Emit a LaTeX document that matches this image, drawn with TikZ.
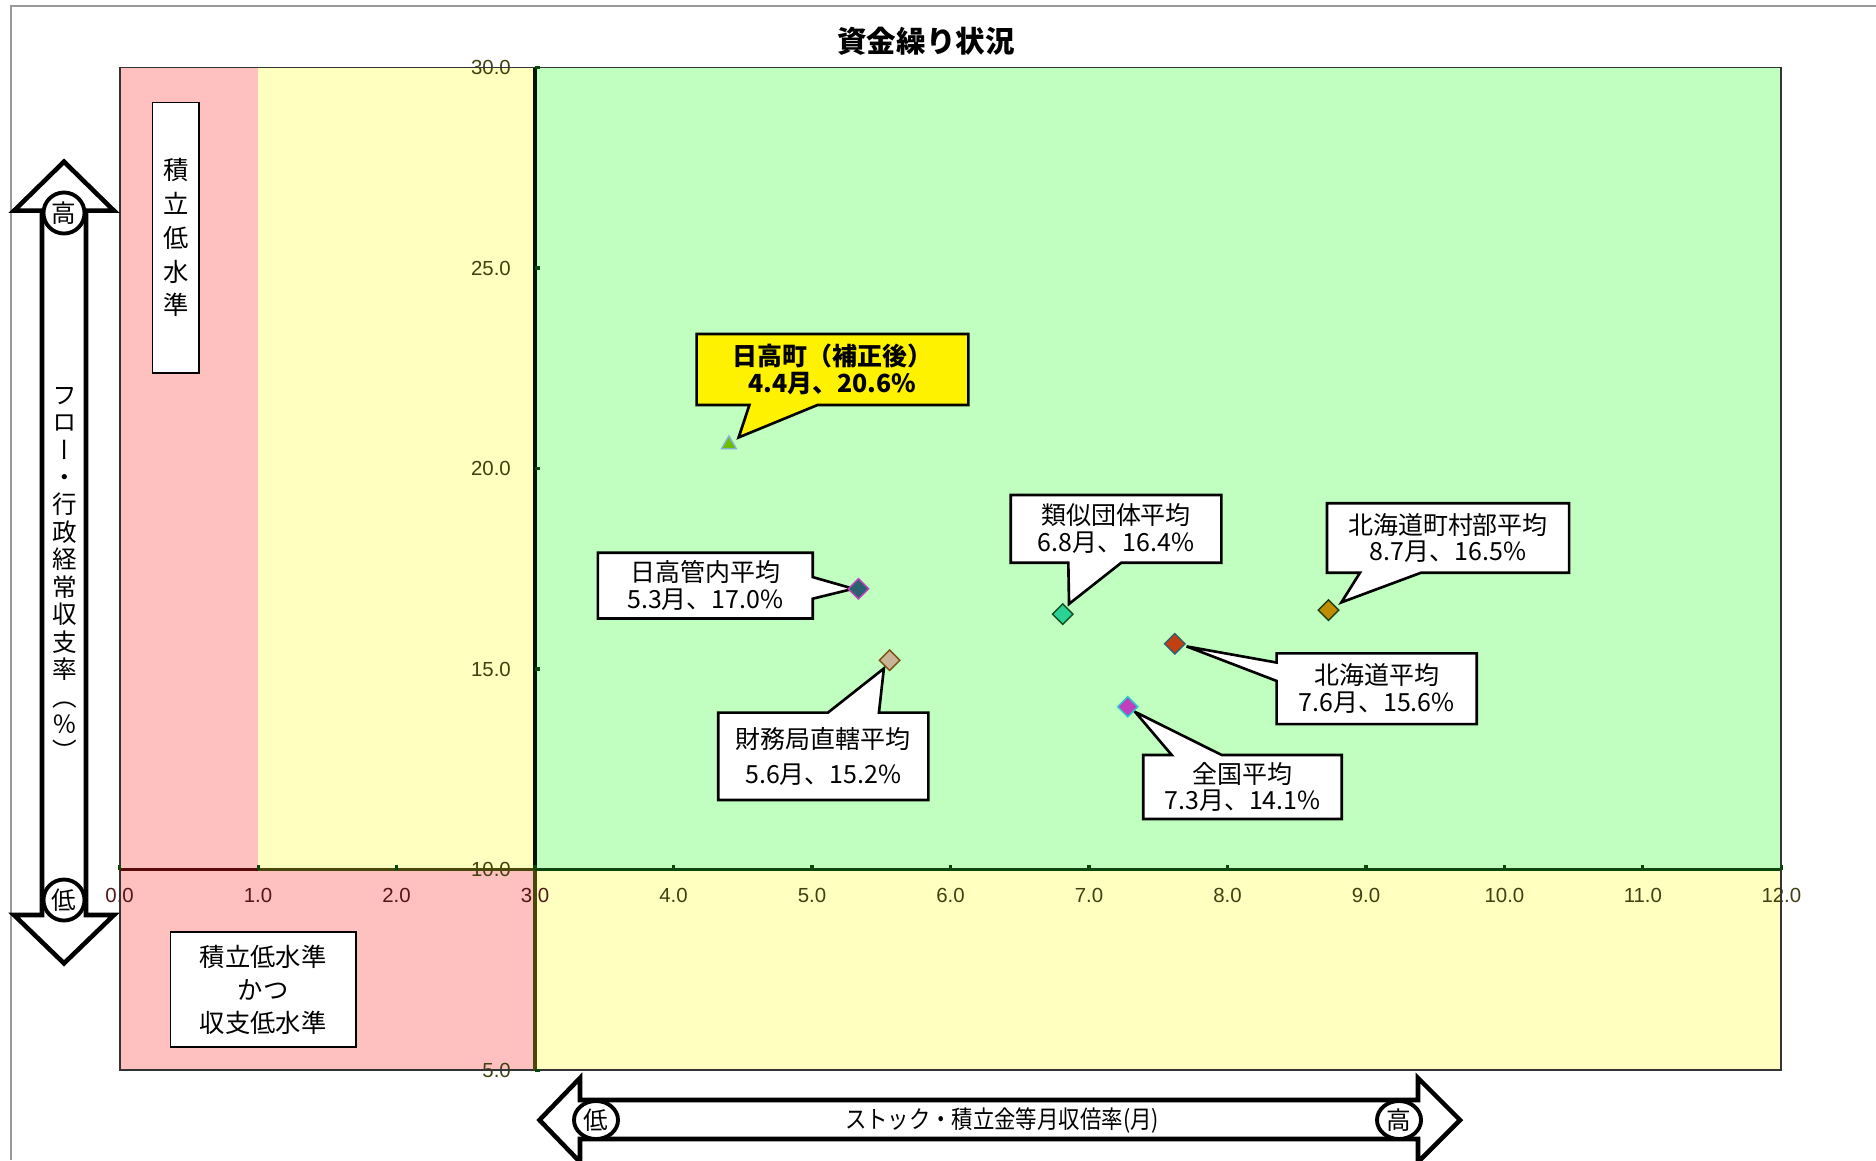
\documentclass[tikz,border=0pt]{standalone}
\usepackage{fontspec}
\setmainfont{Noto Sans CJK JP}
\newfontfamily\vertfont{Noto Sans CJK JP}[RawFeature=+vert]
\newfontfamily\tickfont{Liberation Sans}
\usetikzlibrary{shapes.geometric,shapes.callouts}

\definecolor{lowpink}{RGB}{255,192,192}
\definecolor{midyellow}{RGB}{255,255,192}
\definecolor{okgreen}{RGB}{192,255,192}
\definecolor{axisred}{RGB}{90,10,10}
\definecolor{axisolive}{RGB}{72,72,10}
\definecolor{axisgreen}{RGB}{12,70,12}
\definecolor{tickolive}{RGB}{64,64,16}
\definecolor{tickred}{RGB}{80,24,24}

\tikzset{
  blockarrow/.style={draw=black, fill=white, line width=1.3pt, line join=miter},
  ring/.style={circle, draw=black, fill=white, line width=1.1pt, inner sep=0pt, minimum size=0.41cm, font=\fontsize{7}{7}\selectfont},
  oval/.style={ellipse, draw=black, fill=white, line width=1.1pt, inner sep=0pt, minimum width=0.44cm, minimum height=0.38cm, font=\fontsize{7}{7}\selectfont},
  labelbox/.style={draw=black, fill=white, line width=0.45pt, inner sep=0pt, align=center},
  callbox/.style={rectangle callout, draw=black, fill=white, line width=0.75pt, inner sep=0pt, align=center, font=\fontsize{7.1}{7.6}\selectfont, callout pointer shorten=0.12cm},
  dmd/.style={diamond, line width=0.4pt, inner sep=0pt, minimum size=0.21cm},
  tri/.style={regular polygon, regular polygon sides=3, line width=0.4pt, inner sep=0pt, minimum size=0.17cm},
  xlab/.style={font=\tickfont\fontsize{5.8}{6}\selectfont, inner sep=0pt},
  ylab/.style={font=\tickfont\fontsize{5.8}{6}\selectfont, inner sep=0pt, anchor=east, text=tickolive}
}

\begin{document}
\begin{tikzpicture}[x=0.01cm, y=-0.01cm]
\useasboundingbox (0,0) rectangle (1876,1160);
\draw[color=gray!80, line width=0.5pt] (1876,6) -- (11,6) -- (11,1160);

\node[font=\bfseries\fontsize{8.4}{9}\selectfont] (title) at (926,41) {資金繰り状況};

% chart area, data coordinates
\begin{scope}[shift={(119.6,1270.6)}, x=1.384cm, y=0.4008cm]
	\fill[lowpink] (0,10) rectangle (1,30);
	\fill[midyellow] (1,10) rectangle (3,30);
	\fill[okgreen] (3,10) rectangle (12,30);
	\fill[lowpink] (0,5) rectangle (3,10);
	\fill[midyellow] (3,5) rectangle (12,10);

	\foreach \v in {0,...,3} \node[xlab, text=tickred] (xl\v) at (\v,9.35) {\v.0};
	\foreach \v in {4,...,12} \node[xlab, text=tickolive] (xl\v) at (\v,9.35) {\v.0};
	\foreach \v in {5,10,...,30} \node[ylab] (yl\v) at (2.83,\v) {\v.0};

	\draw[line width=0.55pt, color=black!80] (0,5) rectangle (12,30);
	\draw[line width=1pt, color=axisred] (0,10) -- (1,10);
	\draw[line width=1pt, color=axisolive] (1,10) -- (3,10);
	\draw[line width=1pt, color=axisgreen] (3,10) -- (12,10);
	\draw[line width=1pt, color=axisolive] (3,5) -- (3,10);
	\draw[line width=1pt, color=black!70!axisgreen] (3,10) -- (3,30);
	\foreach \v in {0,...,12} \draw[line width=0.9pt, color=axisgreen] (\v,10) -- (\v,10.12);
	\foreach \v in {5,10,...,30} \draw[line width=0.9pt, color=axisgreen] (3,\v) -- (3.035,\v);

	\coordinate (p0) at (4.4,20.6);
	\coordinate (p1) at (5.335,17.0);
	\coordinate (p2) at (5.56,15.22);
	\coordinate (p3) at (6.81,16.37);
	\coordinate (p4) at (7.62,15.63);
	\coordinate (p5) at (7.28,14.06);
	\coordinate (p6) at (8.73,16.47);
\end{scope}

% zone labels
\node[labelbox, minimum width=0.468cm, minimum height=2.7cm, font=\fontsize{7.2}{9.6}\selectfont] (lowstock) at (175.8,237.7) {積\\立\\低\\水\\準};
\node[labelbox, minimum width=1.855cm, minimum height=1.15cm, font=\fontsize{7.2}{9.4}\selectfont] (lowboth) at (263.25,989.5) {積立低水準\\かつ\\収支低水準};

% vertical axis arrow
\draw[blockarrow] (64,161.7) -- (114,210.7) -- (86,210.7) -- (86,915) -- (114,915) -- (64,963.3) -- (14,915) -- (42,915) -- (42,210.7) -- (14,210.7) -- cycle;
\node[ring] (yhigh) at (64,213) {高};
\node[ring] (ylow) at (64,900) {低};
\node[align=center, inner sep=0pt, font=\vertfont\fontsize{7}{7.8}\selectfont] (ytitle) at (65,574) {フ\\ロ\\ー\\・\\行\\政\\経\\常\\収\\支\\率\\（\\％\\）};

% horizontal axis arrow
\draw[blockarrow] (539.5,1120) -- (580,1078) -- (580,1100) -- (1418,1100) -- (1418,1078) -- (1460,1120) -- (1418,1162) -- (1418,1139) -- (580,1139) -- (580,1162) -- cycle;
\node[oval] (xlow) at (596,1120) {低};
\node[oval] (xhigh) at (1399,1120) {高};
\node[inner sep=0pt, font=\fontsize{7}{7}\selectfont] (xtitle) at (1002,1120) {\scalebox{0.87}[1]{ストック・積立金等月収倍率(月)}};

% callouts
\node[callbox, fill=yellow, font=\bfseries\fontsize{7.1}{7.6}\selectfont, minimum width=2.716cm, minimum height=0.71cm, callout absolute pointer={(p0)}, callout pointer width=0.68cm] (c0) at (832.5,369.5) {日高町（補正後）\\4.4月、20.6\%};
\node[callbox, minimum width=2.147cm, minimum height=0.658cm, callout absolute pointer={(p1)}, callout pointer width=0.216cm, callout pointer shorten=0.05cm] (c1) at (705.3,585.6) {日高管内平均\\5.3月、17.0\%};
\node[callbox, font=\fontsize{7.1}{10}\selectfont, minimum width=2.1cm, minimum height=0.873cm, callout absolute pointer={(p2)}, callout pointer width=0.51cm, callout pointer shorten=0.1cm] (c2) at (823.3,756.3) {財務局直轄平均\\5.6月、15.2\%};
\node[callbox, minimum width=2.105cm, minimum height=0.677cm, callout absolute pointer={(p3)}, callout pointer width=0.53cm] (c3) at (1116,528.8) {類似団体平均\\6.8月、16.4\%};
\node[callbox, minimum width=2.0cm, minimum height=0.707cm, callout absolute pointer={(p4)}, callout pointer width=0.184cm] (c4) at (1376.7,688.7) {北海道平均\\7.6月、15.6\%};
\node[callbox, minimum width=1.984cm, minimum height=0.64cm, callout absolute pointer={(p5)}, callout pointer width=0.5cm, callout pointer shorten=0.09cm] (c5) at (1242.5,787) {全国平均\\7.3月、14.1\%};
\node[callbox, minimum width=2.42cm, minimum height=0.694cm, callout absolute pointer={(p6)}, callout pointer width=0.61cm, callout pointer shorten=0.15cm] (c6) at (1448,538) {北海道町村部平均\\8.7月、16.5\%};

% markers
\node[tri, fill={rgb,255:red,110;green,190;blue,0}, draw={rgb,255:red,130;green,176;blue,208}] (m0) at (p0) {};
\node[dmd, fill={rgb,255:red,43;green,96;blue,112}, draw={rgb,255:red,192;green,64;blue,192}] (m1) at (p1) {};
\node[dmd, fill={rgb,255:red,200;green,180;blue,150}, draw={rgb,255:red,122;green,80;blue,16}] (m2) at (p2) {};
\node[dmd, fill={rgb,255:red,43;green,210;blue,150}, draw={rgb,255:red,16;green,80;blue,32}] (m3) at (p3) {};
\node[dmd, fill={rgb,255:red,192;green,64;blue,16}, draw={rgb,255:red,48;green,96;blue,112}] (m4) at (p4) {};
\node[dmd, fill={rgb,255:red,192;green,64;blue,192}, draw={rgb,255:red,32;green,208;blue,208}] (m5) at (p5) {};
\node[dmd, fill={rgb,255:red,192;green,140;blue,0}, draw={rgb,255:red,32;green,64;blue,16}] (m6) at (p6) {};

\end{tikzpicture}
\end{document}
